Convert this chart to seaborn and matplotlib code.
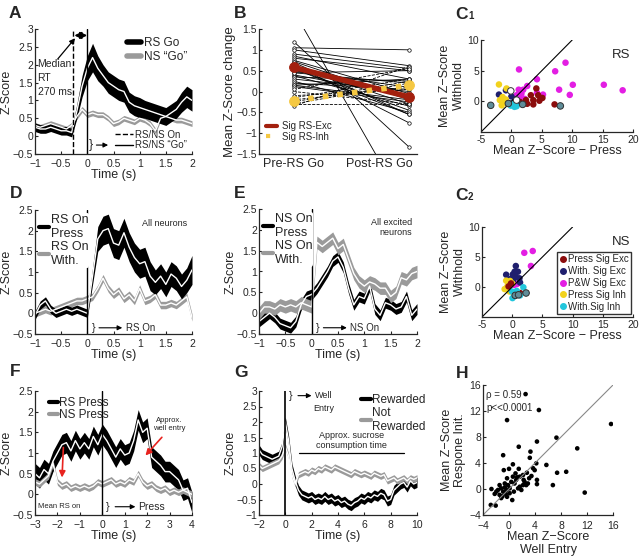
import matplotlib
matplotlib.use('Agg')

import numpy as np
import matplotlib.pyplot as plt
import seaborn as sns
from matplotlib.lines import Line2D

# ---- panel A: RS Go vs NS "Go" (mean, sem) ----
t_a = np.round(np.arange(-1, 2.001, 0.1), 2)
rs_go = np.array([0.25, 0.2, 0.2, 0.25, 0.2, 0.15, 0.15, 0.1, 0.7, 1.4, 1.9, 2.2, 1.9, 1.7, 1.5, 1.4,
                  1.3, 1.25, 0.95, 0.85, 0.8, 0.75, 0.7, 0.65, 0.6, 0.55, 0.65, 0.75, 0.95, 1.1, 1.0])
rs_go_sem = np.array([0.12, 0.12, 0.12, 0.12, 0.12, 0.12, 0.12, 0.12, 0.2, 0.3, 0.35, 0.4, 0.35, 0.3, 0.3, 0.3,
                      0.3, 0.3, 0.28, 0.28, 0.28, 0.25, 0.25, 0.25, 0.25, 0.25, 0.25, 0.25, 0.28, 0.3, 0.3])
ns_go = np.array([0.3, 0.25, 0.3, 0.35, 0.3, 0.25, 0.2, 0.3, 0.55, 0.75, 0.6, 0.65, 0.6, 0.6, 0.5, 0.35,
                  0.4, 0.5, 0.45, 0.4, 0.5, 0.45, 0.35, 0.15, 0.5, 0.55, 0.5, 0.45, 0.45, 0.4, 0.35])
ns_go_sem = np.full(len(t_a), 0.08)

# ---- panel B: pre vs post Z-score change ----
exc_pre = [1.2, 1.94, 1.05, 1.0, 0.9, 0.85, 0.8, 0.75, 0.72, 0.7, 0.65, 0.6, 0.55, 0.5, 0.45,
           0.4, 0.38, 0.35, 0.3, 0.25, 0.2, 0.15, 0.15, 0.12, 0.55, 0.45]
exc_post = [-1.33, -2.9, 1.0, 0.62, 0.55, 0.3, 0.5, -0.05, -0.2, -0.55, -0.75, -0.3, -0.45, 0.1, 0.2,
            -0.1, -0.35, 0.25, 0.0, -0.5, 0.05, -0.2, 0.3, -0.25, -0.55, 0.5]
inh_pre = [-0.35, -0.3, -0.25, -0.2, -0.15, -0.1, 0.0, -0.3, 0.05]
inh_post = [0.6, -0.3, 0.25, 0.1, 0.3, 0.05, -0.3, 0.2, 0.55]
exc_mean = [0.58, -0.13]
inh_mean = [-0.22, 0.15]

# ---- panels C1 / C2: press vs withhold ----
c_groups = ['Press Sig Exc', 'With. Sig Exc', 'P&W Sig Exc', 'Press Sig Inh', 'With.Sig Inh', 'other', 'none']
c_colors = ['#8b0c0c', '#1f1f6e', '#e31ee3', '#f2d21c', '#22c6dc', '#5f8d99', '#ffffff']

c1_x = [1.25, 7.2, 8.9, 4.2, 10.1, 15.2, 18.3, 7.85, 9.6, 2.6, 1.95, 1.2, 5.2, 4.2, 1.4, 2.2, 0.85, 1.65,
        4.1, 4.4, 5.1, 4.6, 3.2, 2.4, 3.6, 7.1, 1.4, 2.6, 3.6,
        -0.9, -2.05, 0.0, 0.6, 0.0, 0.85,
        -2.05, -0.8, -1.45, -1.9, -0.9, -1.6, -0.7, -1.35,
        0.5, -0.1, 0.3, 0.85,
        8.05, 1.85, -0.5, -3.4,
        -0.1, 0.85]
c1_y = [5.2, 4.9, 6.3, 3.6, 2.7, 2.7, 1.8, 1.9, 1.05, 2.5, 1.9, 1.9, 1.1, 1.4, 0.55, 0.4, 1.0, 1.25,
        2.1, 1.0, 0.55, 0.1, 1.0, 0.2, -0.5, -0.5, -0.1, -0.4, 0.2,
        1.8, 1.1, 0.8, 0.3, -0.35, -0.35,
        2.75, 2.1, 0.7, 0.2, 0.3, -0.65, -0.35, -0.1,
        -0.9, -0.7, -0.35, -0.8,
        -0.75, -0.5, -0.35, -0.65,
        1.7, 0.2]
c1_g = ['P&W Sig Exc'] * 18 + ['Press Sig Exc'] * 11 + ['With. Sig Exc'] * 6 + ['Press Sig Inh'] * 8 + \
       ['With.Sig Inh'] * 4 + ['other'] * 4 + ['none'] * 2

c2_x = [2.0, 3.4, 3.1, 0.35, 0.8,
        0.6, 0.4, 0.95, 0.1, -1.0, -0.35, 1.2, 0.6, 1.3, 0.2,
        -1.0, -0.35, -1.25, -0.8, 0.0, -0.6, -0.45,
        -0.6, 1.3, -0.2,
        0.05, 1.85, 0.75, -0.05, 1.3,
        2.3, 0.5, 1.05]
c2_y = [5.7, 6.0, 3.5, 0.35, 0.5,
        3.5, 2.55, 2.55, 2.1, 2.05, 1.3, 1.45, 1.7, 0.75, 1.2,
        1.05, 1.0, -0.35, 0.1, 0.6, 0.6, -0.75,
        0.1, -1.0, 0.6,
        -1.85, -0.05, -0.65, -0.75, -1.4,
        -1.0, -1.4, -1.3]
c2_g = ['P&W Sig Exc'] * 5 + ['With. Sig Exc'] * 10 + ['Press Sig Inh'] * 7 + ['Press Sig Exc'] * 3 + \
       ['With.Sig Inh'] * 5 + ['other'] * 3

# ---- panel D: RS On press / withhold ----
rs_on_press = np.array([-0.05, 0.2, 0.3, 0.1, 0.0, 0.05, 0.1, 0.05, 0.1, 0.05, 0.0, 0.9, 1.8, 2.0, 2.05, 1.7,
                        1.65, 1.95, 1.6, 1.35, 1.2, 1.25, 0.9, 0.75, 0.9, 0.7, 0.95, 0.85, 0.65, 0.8, 1.05])
rs_on_press_sem = np.array([0.1, 0.1, 0.1, 0.1, 0.1, 0.1, 0.1, 0.1, 0.1, 0.1, 0.1, 0.2, 0.3, 0.35, 0.35, 0.35,
                            0.35, 0.35, 0.35, 0.35, 0.35, 0.35, 0.35, 0.3, 0.3, 0.3, 0.3, 0.3, 0.3, 0.3, 0.35])
rs_on_with = np.array([0.0, 0.05, 0.1, 0.05, 0.1, 0.15, 0.2, 0.25, 0.3, 0.3, 0.35, 0.4, 0.6, 0.85, 0.6, 0.45,
                       0.55, 0.35, 0.45, 0.3, 0.6, 0.3, 0.35, 0.45, 0.2, 0.2, 0.25, 0.2, 0.3, 0.4, -0.1])
rs_on_with_sem = np.full(len(t_a), 0.09)

# ---- panel E: NS On press / withhold ----
ns_on_press = np.array([-0.2, -0.1, 0.0, -0.1, -0.25, -0.3, -0.35, -0.2, 0.2, 0.4, 0.45, 0.6, 0.8, 1.0, 1.25, 1.35,
                        1.1, 0.6, 0.2, 0.4, 0.35, 0.65, 0.1, -0.05, 0.25, 0.2, 0.1, 0.15, 0.4, -0.05, 0.1])
ns_on_press_sem = np.full(len(t_a), 0.13)
ns_on_with = np.array([0.0, 0.15, 0.15, 0.1, 0.2, 0.15, 0.2, 0.15, 0.25, 0.2, 0.15, 1.7, 1.6, 1.7, 1.8, 1.55,
                       1.65, 1.3, 0.95, 0.75, 0.65, 0.75, 0.7, 0.6, 0.6, 0.4, 0.5, 0.85, 0.8, 0.95, 1.0])
ns_on_with_sem = np.full(len(t_a), 0.15)

# ---- panel F: press aligned ----
t_f = np.round(np.arange(-3, 4.001, 0.2), 2)
rs_press = np.array([0.5, 0.4, 0.6, 0.5, 0.8, 1.0, 1.2, 1.25, 1.05, 1.3, 1.1, 1.25, 1.1, 1.4, 1.2, 1.45,
                     1.3, 1.1, 0.9, 1.1, 0.95, 1.0, 1.3, 1.8, 1.5, 1.6, 0.9, 0.8, 0.7, 0.55, 0.55, 0.45,
                     0.35, 0.1, 0.15, -0.2])
rs_press_sem = np.full(len(t_f), 0.25)
ns_press = np.array([0.3, 0.25, 0.35, 0.45, 0.75, 0.3, 0.2, 0.25, 0.15, 0.2, 0.15, 0.2, 0.15, 0.2, 0.3, 0.25,
                     0.3, 0.35, 0.25, 0.3, 0.25, 0.35, 0.3, 0.5, 0.3, 0.2, 0.25, 0.15, 0.1, 0.15, 0.05, 0.1,
                     0.05, 0.1, 0.05, 0.0])
ns_press_sem = np.full(len(t_f), 0.08)

# ---- panel G: well entry ----
t_g = np.round(np.arange(-2, 10.001, 0.25), 2)
rewarded = np.array([1.1, 0.95, 0.9, 0.85, 0.8, 0.85, 0.9, 1.2, 2.0, 1.4, 0.5, 0.1, -0.2, -0.35, -0.4, -0.45,
                     -0.4, -0.5, -0.45, -0.5, -0.4, -0.5, -0.45, -0.55, -0.5, -0.6, -0.55, -0.65, -0.7, -0.6,
                     -0.55, -0.45, -0.5, -0.4, -0.45, -0.35, -0.4, -0.3, -0.35, -0.55, -0.5, -0.2, -0.1, 0.0,
                     0.05, -0.1, 0.1, 0.0, 0.05])
rewarded_sem = np.full(len(t_g), 0.16)
not_rewarded = np.array([0.6, 0.5, 0.55, 0.6, 0.65, 0.7, 0.75, 0.9, 1.2, 0.9, 0.3, 0.0, 0.3, 0.35, 0.4, 0.35,
                         0.45, 0.4, 0.5, 0.45, 0.55, 0.5, 0.45, 0.55, 0.5, 0.45, 0.4, 0.35, 0.3, 0.4, 0.35, 0.3,
                         0.35, 0.3, 0.25, 0.35, 0.3, 0.25, 0.3, 0.1, 0.15, 0.2, 0.1, 0.15, 0.2, 0.1, 0.2, 0.15,
                         0.2])
not_rewarded_sem = np.full(len(t_g), 0.1)

# ---- panel H: well entry vs response init ----
h_x = [2.55, 4.6, -0.3, 15.7, 7.3, 4.3, 10.5, 1.5, -0.9, 3.3, 3.2, 4.2, 5.75, 0.6, -0.8, 0.0, 1.5, 8.8, 7.4,
       3.7, 3.95, 2.75, 2.15, 3.45, 3.1, 4.3, 6.75, 4.3, 11.65, -2.7, -2.2, -2.8, -2.05, -1.2, 0.5,
       -0.65, -0.4, -0.15, 0.1, -0.9, -0.5, 0.35, 0.85, 1.1, 1.65, 1.9, -1.45, -1.7, -0.3, 0.6, 1.25, 2.4,
       2.65, -0.3, 0.1, -1.0, -0.65, -1.2, 0.75, 1.4, 2.15, 1.0, 1.65, 2.25, 2.9, -1.95, -1.45]
h_y = [14.6, 12.15, 10.6, 10.0, 7.9, 7.3, 6.25, 6.5, 5.2, 5.75, 4.8, 3.95, 3.7, 3.8, 2.9, 3.1, 3.1, 2.65, 2.5,
       3.2, 2.9, 2.5, 2.15, 2.0, 1.65, 1.4, 0.6, 0.75, -0.55, 0.0, -0.75, -2.45, -2.55, -1.4, -1.7,
       0.25, -0.15, 0.6, 0.1, -0.4, -0.75, 1.1, 0.85, 1.4, 0.35, -0.15, 0.6, -0.15, 1.65, 1.9, 1.8, 1.1,
       0.6, -1.2, -0.65, -1.1, 0.85, 0.1, -0.4, 0.1, 0.6, 2.4, 1.9, 1.4, 0.85, -0.4, -0.9]

sns.set_style('ticks')
plt.rcParams['font.family'] = ['Liberation Sans', 'DejaVu Sans']
plt.rcParams['xtick.direction'] = 'in'
plt.rcParams['ytick.direction'] = 'in'
plt.rcParams['xtick.major.size'] = 2.5
plt.rcParams['ytick.major.size'] = 2.5
plt.rcParams['axes.linewidth'] = 0.9

TICK = 7.5
LAB = 9
GRAY = '#9a9a9a'

fig = plt.figure(figsize=(6.4, 5.6), dpi=100)


def add_ax(x0, y0, x1, y1):
    # pixel box -> figure fraction
    return fig.add_axes([x0 / 640, 1 - y1 / 560, (x1 - x0) / 640, (y1 - y0) / 560])


def band(ax, t, m, s, color):
    ax.fill_between(t, m - s, m + s, color=color, lw=0)
    sns.lineplot(x=t, y=m, ax=ax, color='white', lw=1.0)


def style(ax, xlabel, ylabel, ypad=0):
    sns.despine(ax=ax)
    ax.tick_params(labelsize=TICK, pad=1.5)
    ax.tick_params(axis='x', pad=3.5)
    ax.set_xlabel(xlabel, fontsize=LAB, labelpad=0)
    ax.set_ylabel(ylabel, fontsize=LAB, labelpad=ypad)


def line_handles(colors, styles=None, lw=3.5):
    styles = styles or ['-'] * len(colors)
    return [Line2D([], [], color=c, lw=lw, ls=s) for c, s in zip(colors, styles)]


# panel letters
for lbl, x, y in [('A', 9, 18), ('B', 234, 18), ('D', 10, 198), ('E', 234, 198),
                  ('F', 10, 376), ('G', 234, 377), ('H', 456, 378)]:
    fig.text(x / 640, 1 - y / 560, lbl, fontsize=12.5, fontweight='bold')
for sub, x, y in [('1', 455, 19), ('2', 455, 200)]:
    fig.text(x / 640, 1 - y / 560, 'C', fontsize=12.5, fontweight='bold')
    fig.text((x + 13) / 640, 1 - y / 560, sub, fontsize=7, fontweight='bold')

# ---------------- A ----------------
ax = add_ax(35, 29, 192, 154)
band(ax, t_a, ns_go, ns_go_sem, GRAY)
band(ax, t_a, rs_go, rs_go_sem, 'black')
ax.axvline(-0.27, color='black', ls='--', lw=1)
ax.axvline(0, color='black', lw=1)
ax.set_xlim(-1, 2)
ax.set_ylim(-0.5, 3)
ax.set_xticks([-1, -0.5, 0, 0.5, 1, 1.5, 2])
ax.set_xticklabels(['−1', '−0.5', '0', '0.5', '1', '1.5', '2'])
ax.set_yticks([-0.5, 0, 0.5, 1, 1.5, 2, 2.5, 3])
ax.set_yticklabels(['−0.5', '0', '0.5', '1', '1.5', '2', '2.5', '3'])
style(ax, 'Time (s)', 'Z-Score')
ax.text(-0.95, 2.15, 'Median\nRT\n270 ms', fontsize=7.5, va='top', linespacing=1.5)
ax.annotate('', xy=(-0.2, 2.8), xytext=(-0.6, 2.1),
            arrowprops=dict(arrowstyle='-|>', color='black', lw=0.9, mutation_scale=8))
ax.annotate('', xy=(0.05, 2.82), xytext=(-0.3, 2.82),
            arrowprops=dict(arrowstyle='<|-|>', color='black', lw=1.2, mutation_scale=10))
leg = ax.legend(line_handles(['black', GRAY], lw=4), ['RS Go', 'NS “Go”'], loc='upper right',
                bbox_to_anchor=(1.04, 1.02), frameon=False, fontsize=8.5, handlelength=1.2,
                handletextpad=0.3, labelspacing=0.2)
ax.add_artist(leg)
ax.text(0.02, -0.25, '}', fontsize=9, va='center')
ax.annotate('', xy=(0.45, -0.25), xytext=(0.12, -0.25),
            arrowprops=dict(arrowstyle='-|>', color='black', lw=0.8, mutation_scale=7))
ax.legend(line_handles(['black', 'black'], ['--', '-'], lw=1), ['RS/NS On', 'RS/NS “Go”'],
          loc='lower right', bbox_to_anchor=(1.02, -0.04), frameon=False, fontsize=7,
          handlelength=1.8, handletextpad=0.2, labelspacing=0.05)

# ---------------- B ----------------
ax = add_ax(259, 29, 417, 154)
for a, b in zip(exc_pre, exc_post):
    ax.plot([1, 2], [a, b], color='black', lw=0.6, marker='o', ms=2.5, mfc='white', mew=0.5)
for a, b in zip(inh_pre, inh_post):
    ax.plot([1, 2], [a, b], color='black', lw=0.6, ls='--', marker='o', ms=2.5, mfc='white', mew=0.5)
sns.lineplot(x=[1, 2], y=exc_mean, ax=ax, color='#a3200e', lw=4, marker='o', ms=7, mec='#a3200e')
sns.lineplot(x=[1, 2], y=inh_mean, ax=ax, color='#f5c842', lw=4, ls=':', marker='o', ms=7, mec='#f5c842')
ax.set_xlim(0.7, 2.07)
ax.set_ylim(-1.5, 1.5)
ax.set_xticks([1, 1.74])
ax.set_xticklabels(['Pre-RS Go', 'Post-RS Go'])
ax.set_yticks([-1.5, -1, -0.5, 0, 0.5, 1, 1.5])
ax.set_yticklabels(['−1.5', '−1', '−0.5', '0', '0.5', '1', '1.5'])
style(ax, '', 'Mean Z-Score change')
ax.yaxis.label.set_fontsize(9.5)
ax.tick_params(axis='x', labelsize=9, length=0, pad=3)
ax.legend(line_handles(['#a3200e', '#f5c842'], ['-', ':'], lw=3), ['Sig RS-Exc', 'Sig RS-Inh'],
          loc='lower left', bbox_to_anchor=(-0.01, 0.03), frameon=False, fontsize=7,
          handlelength=1.1, handletextpad=0.5, labelspacing=0.05)


# ---------------- C1 / C2 ----------------
def c_panel(box, xs, ys, gs, tag, legend):
    ax = add_ax(*box)
    ax.plot([-5, 10], [-5, 10], color='black', lw=0.8)
    pal = dict(zip(c_groups, c_colors))
    sns.scatterplot(x=xs, y=ys, hue=gs, palette=pal, ax=ax, s=22, edgecolor='none', legend=False)
    edged = [i for i, g in enumerate(gs) if g in ('other', 'none')]
    ax.scatter([xs[i] for i in edged], [ys[i] for i in edged], s=22,
               c=[pal[gs[i]] for i in edged], edgecolors='#333333', linewidths=0.7, zorder=3)
    ax.set_xlim(-5, 20)
    ax.set_ylim(-5, 10)
    ax.set_xticks([-5, 0, 5, 10, 15, 20])
    ax.set_xticklabels(['-5', '0', '5', '10', '15', '20'])
    ax.set_yticks([0, 5, 10])
    style(ax, 'Mean Z−Score − Press', 'Mean Z−Score\nWithhold', ypad=2)
    ax.tick_params(axis='x', pad=2)
    ax.text(0.86, 0.8, tag, transform=ax.transAxes, fontsize=9.5)
    if legend:
        hs = [Line2D([], [], ls='none', marker='o', ms=4, color=c) for c in c_colors[:5]]
        ax.legend(hs, c_groups[:5], loc='lower right', bbox_to_anchor=(0.995, 0.02), fontsize=7,
                  frameon=True, fancybox=False, edgecolor='black', handletextpad=0.1,
                  borderpad=0.25, labelspacing=0.2, handlelength=0.8, borderaxespad=0.1)


c_panel((481, 40, 633, 132), c1_x, c1_y, c1_g, 'RS', False)
c_panel((482, 227, 633, 317), c2_x, c2_y, c2_g, 'NS', True)


# ---------------- D / E ----------------
def on_panel(box, press, press_sem, with_, with_sem, names, note, cue, press_on_top):
    ax = add_ax(*box)
    if press_on_top:
        band(ax, t_a, with_, with_sem, GRAY)
        band(ax, t_a, press, press_sem, 'black')
    else:
        band(ax, t_a, press, press_sem, 'black')
        band(ax, t_a, with_, with_sem, GRAY)
    ax.axvline(0, color='black', lw=1)
    ax.set_xlim(-1, 2)
    ax.set_ylim(-0.5, 2.5)
    ax.set_xticks([-1, -0.5, 0, 0.5, 1, 1.5, 2])
    ax.set_xticklabels(['−1', '−0.5', '0', '0.5', '1', '1.5', '2'])
    ax.set_yticks([-0.5, 0, 0.5, 1, 1.5, 2, 2.5])
    ax.set_yticklabels(['−0.5', '0', '0.5', '1', '1.5', '2', '2.5'])
    style(ax, 'Time (s)', 'Z-Score')
    leg = ax.legend(line_handles(['black', GRAY], lw=3), names, loc='upper left',
                    bbox_to_anchor=(-0.02, 1.03), frameon=True, fontsize=9, handlelength=0.8,
                    handletextpad=0.1, labelspacing=0.1, borderpad=0.1)
    leg.get_frame().set_edgecolor('none')
    leg.get_frame().set_alpha(1)
    ax.text(0.97, 0.93, note, transform=ax.transAxes, fontsize=6.5, ha='right', va='top')
    ax.text(0.08, -0.35, '}', fontsize=8, va='center')
    ax.annotate('', xy=(0.72, -0.35), xytext=(0.17, -0.35),
                arrowprops=dict(arrowstyle='-|>', color='black', lw=0.8, mutation_scale=7))
    ax.text(0.73, -0.35, cue, fontsize=7, va='center')


on_panel((35, 210, 192, 334), rs_on_press, rs_on_press_sem, rs_on_with, rs_on_with_sem,
         ['RS On\nPress', 'RS On\nWith.'], 'All neurons', 'RS On', True)
on_panel((259, 209, 417, 334), ns_on_press, ns_on_press_sem, ns_on_with, ns_on_with_sem,
         ['NS On\nPress', 'NS On\nWith.'], 'All excited\nneurons', 'NS On', False)

# ---------------- F ----------------
ax = add_ax(35, 391, 192, 515)
band(ax, t_f, rs_press, rs_press_sem, 'black')
band(ax, t_f, ns_press, ns_press_sem, GRAY)
ax.axvline(0, color='black', lw=1)
ax.set_xlim(-3, 4)
ax.set_ylim(-0.5, 2.5)
ax.set_xticks(range(-3, 5))
ax.set_xticklabels(['−3', '−2', '−1', '0', '1', '2', '3', '4'])
ax.set_yticks([-0.5, 0, 0.5, 1, 1.5, 2, 2.5])
ax.set_yticklabels(['−0.5', '0', '0.5', '1', '1.5', '2', '2.5'])
style(ax, 'Time (s)', 'Z-Score')
ax.legend(line_handles(['black', GRAY], lw=3), ['RS Press', 'NS Press'], loc='upper left',
          bbox_to_anchor=(0.02, 1.04), frameon=False, fontsize=8.5, handlelength=0.8,
          handletextpad=0.1, labelspacing=0.05)
ax.annotate('', xy=(-1.8, 0.34), xytext=(-1.73, 1.2),
            arrowprops=dict(arrowstyle='-|>', color='#e8231f', lw=1.2, mutation_scale=9))
ax.annotate('', xy=(1.84, 0.89), xytext=(2.74, 1.43),
            arrowprops=dict(arrowstyle='-|>', color='#e8231f', lw=1.2, mutation_scale=9))
ax.text(3.0, 1.55, 'Approx.\nwell entry', fontsize=5.5, ha='center')
ax.text(-2.85, -0.3, 'Mean RS on', fontsize=5.5, va='center')
ax.text(0.15, -0.3, '}', fontsize=8, va='center')
ax.annotate('', xy=(1.6, -0.3), xytext=(0.45, -0.3),
            arrowprops=dict(arrowstyle='-|>', color='black', lw=0.8, mutation_scale=7))
ax.text(1.62, -0.3, 'Press', fontsize=7.5, va='center')

# ---------------- G ----------------
ax = add_ax(259, 391, 417, 515)
band(ax, t_g, rewarded, rewarded_sem, 'black')
band(ax, t_g, not_rewarded, not_rewarded_sem, GRAY)
ax.axvline(0, color='black', lw=1.2)
ax.set_xlim(-2, 10)
ax.set_ylim(-1, 3)
ax.set_xticks([-2, 0, 2, 4, 6, 8, 10])
ax.set_xticklabels(['−2', '0', '2', '4', '6', '8', '10'])
ax.set_yticks([-1, -0.5, 0, 0.5, 1, 1.5, 2, 2.5, 3])
ax.set_yticklabels(['−1', '−0.5', '0', '0.5', '1', '1.5', '2', '2.5', '3'])
style(ax, 'Time (s)', 'Z-Score')
ax.plot([1, 9], [1.0, 1.0], color='black', lw=0.9)
ax.text(5, 1.1, 'Approx. sucrose\nconsumption time', fontsize=6.5, ha='center', va='bottom')
ax.text(0.25, 2.85, '}', fontsize=8, va='center')
ax.annotate('', xy=(2.2, 2.85), xytext=(0.75, 2.85),
            arrowprops=dict(arrowstyle='-|>', color='black', lw=0.8, mutation_scale=7))
ax.text(2.25, 2.85, 'Well', fontsize=6.5, va='center')
ax.text(2.1, 2.45, 'Entry', fontsize=6.5, va='center')
ax.legend(line_handles(['black', GRAY], lw=3), ['Rewarded', 'Not\nRewarded'], loc='upper right',
          bbox_to_anchor=(1.12, 1.06), frameon=False, fontsize=8.5, handlelength=0.8,
          handletextpad=0.1, labelspacing=0.05)

# ---------------- H ----------------
ax = add_ax(483, 385, 613, 515)
ax.plot([-4, 16], [-4, 16], color='#888888', lw=0.8)
sns.scatterplot(x=h_x, y=h_y, ax=ax, color='black', s=11, edgecolor='none')
ax.set_xlim(-4, 16)
ax.set_ylim(-4, 16)
ax.set_xticks([-4, 0, 4, 8, 12, 16])
ax.set_xticklabels(['−4', '0', '4', '8', '12', '16'])
ax.set_yticks([-4, 0, 4, 8, 12, 16])
ax.set_yticklabels(['−4', '0', '4', '8', '12', '16'])
style(ax, 'Mean Z−Score\nWell Entry', 'Mean Z−Score\nRespone Init.', ypad=2)
ax.tick_params(axis='x', pad=4)
ax.text(-3.5, 15.2, 'ρ = 0.59\np<<0.0001', fontsize=7, va='top', linespacing=1.3)

fig.savefig('out.png', dpi=100)
